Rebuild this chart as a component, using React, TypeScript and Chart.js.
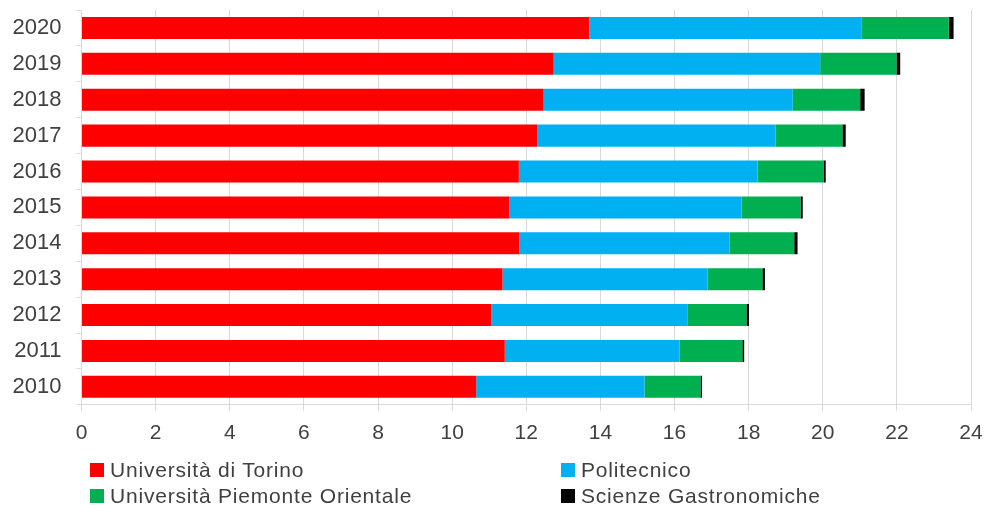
import React, { useEffect, useRef } from "react";
import { Chart, registerables } from "chart.js";

Chart.register(...registerables);

const years = ["2020", "2019", "2018", "2017", "2016", "2015", "2014", "2013", "2012", "2011", "2010"];
const torino = [13.70, 12.74, 12.47, 12.29, 11.80, 11.55, 11.82, 11.36, 11.06, 11.42, 10.65];
const politecnico = [7.34, 7.19, 6.72, 6.44, 6.44, 6.26, 5.67, 5.53, 5.30, 4.72, 4.54];
const piemonteOrientale = [2.36, 2.06, 1.82, 1.80, 1.78, 1.59, 1.74, 1.48, 1.58, 1.69, 1.51];
const gastronomiche = [0.13, 0.10, 0.12, 0.09, 0.06, 0.06, 0.09, 0.07, 0.07, 0.05, 0.04];
const xTicks = [0, 2, 4, 6, 8, 10, 12, 14, 16, 18, 20, 22, 24];

const seriesNames = ["Università di Torino", "Politecnico", "Università Piemonte Orientale", "Scienze Gastronomiche"];
const seriesColors = ["#FF0000", "#00B0F0", "#00B050", "#000000"];

const FONT = "'Liberation Sans', Arial, sans-serif";
const TEXT = "#404040";
const GRID = "#d9d9d9";

export default function App() {
  const ref = useRef<HTMLCanvasElement | null>(null);

  useEffect(() => {
    document.body.style.margin = "0";
    const canvas = ref.current;
    if (!canvas) return;
    const values = [torino, politecnico, piemonteOrientale, gastronomiche];
    const chart = new Chart(canvas, {
      type: "bar",
      data: {
        labels: years,
        datasets: seriesNames.map((name, i) => ({
          label: name,
          data: values[i],
          backgroundColor: seriesColors[i],
          borderWidth: 0,
          barPercentage: 0.614,
          categoryPercentage: 1,
        })),
      },
      options: {
        indexAxis: "y",
        animation: false,
        responsive: false,
        maintainAspectRatio: false,
        layout: { padding: { top: 10, right: 13, bottom: 49, left: 0 } },
        plugins: {
          legend: { display: false },
          tooltip: { enabled: false },
        },
        scales: {
          x: {
            stacked: true,
            min: 0,
            max: 24,
            afterBuildTicks: (scale: any) => {
              scale.ticks = xTicks.map((v) => ({ value: v }));
            },
            afterFit: (scale: any) => {
              scale.paddingLeft = 0;
              scale.paddingRight = 0;
            },
            grid: { color: GRID, lineWidth: 1, tickLength: 6, drawTicks: true },
            border: { color: GRID, width: 1 },
            ticks: {
              color: TEXT,
              font: { family: FONT, size: 21 },
              padding: 10,
              maxRotation: 0,
            },
          },
          y: {
            stacked: true,
            afterFit: (scale: any) => {
              scale.width = 81.5;
              scale.paddingTop = 0;
              scale.paddingBottom = 0;
            },
            grid: { drawOnChartArea: false, drawTicks: true, tickLength: 5, color: GRID, offset: true },
            border: { color: GRID, width: 1 },
            ticks: {
              color: TEXT,
              font: { family: FONT, size: 22 },
              padding: 15,
            },
          },
        },
      },
    });
    return () => chart.destroy();
  }, []);

  const legendItem = (i: number, left: number, top: number) => (
    <div
      key={i}
      style={{
        position: "absolute",
        left,
        top,
        display: "flex",
        alignItems: "center",
        height: 26,
        fontFamily: FONT,
        fontSize: 21,
        letterSpacing: "0.8px",
        color: TEXT,
        whiteSpace: "nowrap",
      }}
    >
      <span
        style={{
          display: "inline-block",
          width: 14,
          height: 14,
          background: seriesColors[i],
          marginRight: 6,
        }}
      />
      <span>{seriesNames[i]}</span>
    </div>
  );

  return (
    <div style={{ position: "relative", width: 984, height: 505, background: "#fff" }}>
      <canvas ref={ref} width={984} height={505} style={{ display: "block" }} />
      {legendItem(0, 90, 457)}
      {legendItem(1, 561, 457)}
      {legendItem(2, 90, 483)}
      {legendItem(3, 561, 483)}
    </div>
  );
}
